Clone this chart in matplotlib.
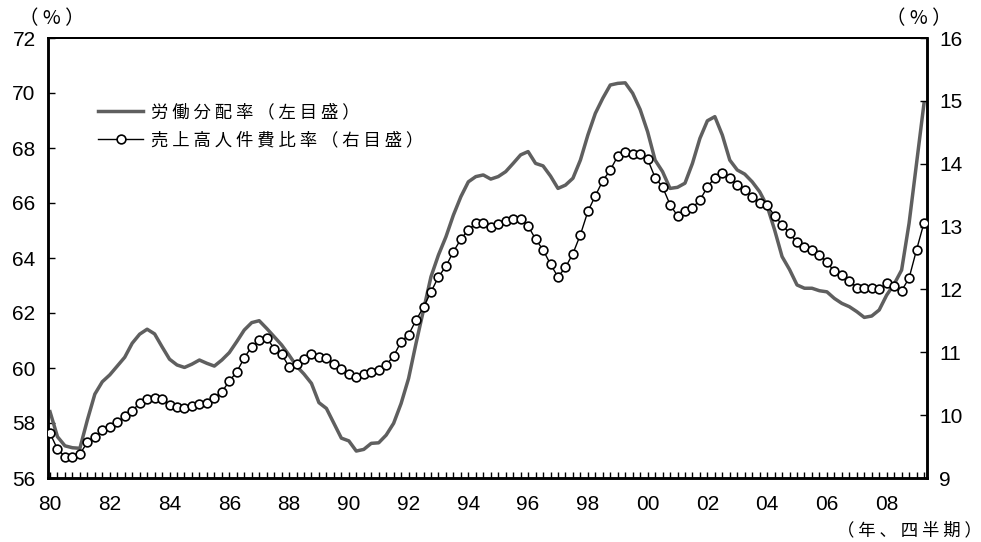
import numpy as np
import matplotlib
matplotlib.use("Agg")
import matplotlib.pyplot as plt
from matplotlib.lines import Line2D
from matplotlib.ticker import MultipleLocator, FixedLocator

# quarterly data, 1980Q1 onwards
labour_share = [
    58.41, 57.50, 57.17, 57.10, 57.08, 58.11, 59.05, 59.50, 59.75, 60.07,
    60.39, 60.90, 61.23, 61.41, 61.24, 60.77, 60.32, 60.11, 60.02, 60.14,
    60.29, 60.17, 60.07, 60.29, 60.56, 60.96, 61.38, 61.65, 61.72, 61.44,
    61.14, 60.84, 60.47, 60.07, 59.78, 59.44, 58.74, 58.53, 57.99, 57.45,
    57.35, 56.98, 57.04, 57.26, 57.28, 57.56, 57.99, 58.71, 59.62, 60.90,
    62.11, 63.32, 64.11, 64.77, 65.56, 66.23, 66.77, 66.96, 67.02, 66.87,
    66.96, 67.14, 67.44, 67.75, 67.87, 67.44, 67.35, 66.98, 66.53, 66.65,
    66.90, 67.56, 68.47, 69.26, 69.81, 70.29, 70.35, 70.37, 69.99, 69.40,
    68.59, 67.56, 67.14, 66.53, 66.57, 66.72, 67.44, 68.35, 68.99, 69.14,
    68.47, 67.56, 67.20, 67.05, 66.77, 66.41, 65.89, 65.02, 64.05, 63.58,
    63.02, 62.90, 62.90, 62.81, 62.77, 62.53, 62.35, 62.23, 62.05, 61.84,
    61.89, 62.11, 62.65, 63.05, 63.56, 65.26, 67.44, 69.63,
]
cost_ratio = [
    9.71, 9.46, 9.34, 9.34, 9.38, 9.57, 9.66, 9.76, 9.81, 9.89,
    9.98, 10.06, 10.20, 10.26, 10.28, 10.26, 10.16, 10.13, 10.11, 10.14,
    10.17, 10.20, 10.27, 10.37, 10.54, 10.69, 10.91, 11.09, 11.20, 11.23,
    11.06, 10.97, 10.77, 10.82, 10.89, 10.98, 10.92, 10.91, 10.81, 10.74,
    10.65, 10.61, 10.65, 10.69, 10.72, 10.80, 10.94, 11.17, 11.28, 11.51,
    11.72, 11.96, 12.20, 12.37, 12.60, 12.80, 12.95, 13.05, 13.06, 13.00,
    13.04, 13.09, 13.12, 13.12, 13.01, 12.80, 12.63, 12.40, 12.20, 12.35,
    12.57, 12.87, 13.24, 13.49, 13.73, 13.90, 14.12, 14.19, 14.15, 14.15,
    14.07, 13.78, 13.63, 13.35, 13.17, 13.24, 13.30, 13.42, 13.63, 13.78,
    13.85, 13.78, 13.66, 13.58, 13.47, 13.38, 13.34, 13.17, 13.03, 12.89,
    12.75, 12.68, 12.63, 12.55, 12.43, 12.29, 12.23, 12.14, 12.03, 12.03,
    12.03, 12.00, 12.10, 12.06, 11.98, 12.18, 12.63, 13.06,
]
year_labels = ["80", "82", "84", "86", "88", "90", "92", "94", "96", "98",
               "00", "02", "04", "06", "08"]
label1 = "労働分配率（左目盛）"
label2 = "売上高人件費比率（右目盛）"

jp = "Noto Sans CJK JP"
num = ["Liberation Sans", "DejaVu Sans"]

def spaced(s):
    return " ".join(list(s))

x = np.arange(len(labour_share))

fig = plt.figure(figsize=(9.81, 5.42), dpi=100)
ax = fig.add_axes([48/981, 1-478/542, 879/981, 440/542])
ax2 = ax.twinx()

gray = "#5f5f5f"
ax.plot(x, labour_share, color=gray, lw=2.5, zorder=2)
ax2.plot(x, cost_ratio, color="black", lw=1.0, marker="o", ms=6.3,
         mfc="white", mec="black", mew=1.2, zorder=3)

ax.set_xlim(-0.27, 117.4)
ax.set_ylim(56, 72)
ax2.set_ylim(9, 16)
ax.yaxis.set_major_locator(MultipleLocator(2))
ax2.yaxis.set_major_locator(MultipleLocator(1))
ax.xaxis.set_major_locator(FixedLocator(np.arange(0, 8*len(year_labels), 8)))
ax.xaxis.set_minor_locator(MultipleLocator(1))
ax.set_xticklabels(year_labels)

for a in (ax, ax2):
    for sp in a.spines.values():
        sp.set_linewidth(1.8)
    a.spines["top"].set_linewidth(1.4)

ax.tick_params(axis="x", which="both", direction="in", length=4, width=1,
               pad=12, labelsize=15)
ax.tick_params(axis="y", direction="in", length=5, width=1, pad=9, labelsize=15)
ax2.tick_params(axis="y", direction="in", length=5, width=1, pad=9, labelsize=15)
for t in ax.get_xticklabels() + ax.get_yticklabels() + ax2.get_yticklabels():
    t.set_family(num)

handles = [
    Line2D([], [], color=gray, lw=2.5),
    Line2D([], [], color="black", lw=1.0, marker="o", ms=6.3,
           mfc="white", mec="black", mew=1.2),
]
leg = ax2.legend(handles, [spaced(label1), spaced(label2)], loc="upper left",
                 bbox_to_anchor=(50/879, 375/440), frameon=False,
                 handlelength=2.6, handletextpad=0.45, labelspacing=0.6,
                 borderpad=0, borderaxespad=0,
                 prop={"family": jp, "size": 12.5})

fig.text(52/981, 1-19/542, "（ % ）", family=jp, fontsize=14, va="center", ha="center")
fig.text(919/981, 1-19/542, "（ % ）", family=jp, fontsize=14, va="center", ha="center")
fig.text(982/981, 1-530/542, spaced("（年、四半期）"), family=jp, fontsize=12.5,
         va="center", ha="right")

fig.savefig("out.png", dpi=100)
